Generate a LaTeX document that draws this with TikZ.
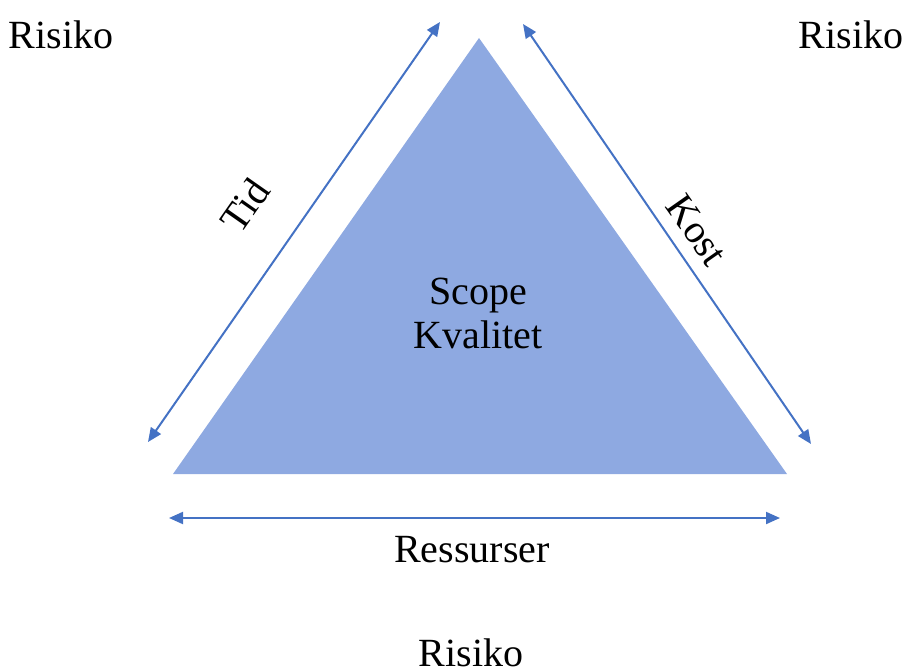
\documentclass[tikz,border=0pt]{standalone}
\usepackage{fontspec}
\setmainfont{Liberation Serif}
\usetikzlibrary{positioning}
\usetikzlibrary{arrows.meta}
\definecolor{triblue}{RGB}{142,169,225}
\definecolor{arrblue}{RGB}{68,114,196}
\tikzset{
	sidearrow/.style={arrblue, line width=1pt, {Triangle[length=7pt,width=6pt]}-{Triangle[length=7pt,width=6pt]}},
	lbl/.style={font=\fontsize{20}{22}\selectfont, inner sep=0pt, align=center}
}

\begin{document}
\begin{tikzpicture}[x=0.5pt,y=-0.5pt]
					\useasboundingbox (0,0) rectangle (904,668);
					
					% triangle
					\fill[triblue] (479,38) -- (787,474) -- (173,474) -- cycle;
					
					% arrow ends
					\coordinate (tidlow) at (148,442);
					\coordinate (tidtop) at (440,22);
					\coordinate (kosttop) at (523,24);
					\coordinate (kostlow) at (811,444);
					\coordinate (resleft) at (169,518);
					\coordinate (resright) at (780,518);
					
					\draw[sidearrow] (tidlow) -- (tidtop);
					\draw[sidearrow] (kosttop) -- (kostlow);
					\draw[sidearrow] (resleft) -- (resright);
					
					\node[lbl] (risikotl) at (61,35) {Risiko};
					\node[lbl] (risikotr) at (851,35) {Risiko};
					\node[lbl] (risikob) at (471,653) {Risiko};
					
					\node[lbl, rotate=55] (tid) at (245,205) {Tid};
					\node[lbl, rotate=-55] (kost) at (697,230) {Kost};
					\node[lbl] (ressurser) at (472,550) {Ressurser};
					\node[lbl] (scope) at (478,313) {Scope\\Kvalitet};
\end{tikzpicture}
\end{document}
